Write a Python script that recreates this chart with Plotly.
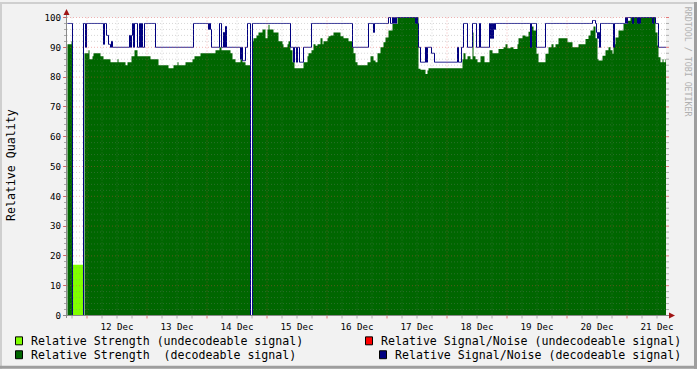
import pandas as pd
import plotly.graph_objects as go

# ---------------- data (RRD samples, 24 min step) ----------------
START = "2023-12-11 16:12"
STEP = "24min"
N_SAMPLES = 599

# (value, number of consecutive samples)
strength_undec_runs = [(0, 5), (17, 11), (0, 583)]

strength_dec_runs = [
    (91, 4), (92, 1), (0, 12), (88, 4), (89, 1), (86, 3), (87, 1), (88, 7), (87, 3), (86, 7),
    (85, 7), (86, 1), (85, 7), (84, 2), (85, 4), (87, 3), (89, 3), (87, 13), (86, 8), (84, 10),
    (83, 5), (84, 4), (85, 1), (84, 7), (85, 7), (86, 2), (87, 6), (88, 15), (89, 4), (90, 2),
    (89, 9), (88, 2), (86, 3), (85, 5), (86, 2), (85, 3), (84, 5), (0, 2), (92, 1), (93, 3),
    (94, 2), (95, 4), (96, 3), (93, 2), (96, 1), (97.6, 1), (96, 4), (95, 5), (92, 4), (91, 1),
    (90, 4), (91, 1), (92, 2), (89, 2), (85, 2), (83, 9), (85, 4), (87, 1), (88, 3), (89, 2),
    (91, 2), (90.5, 2), (91, 3), (93, 2), (91, 1), (92, 4), (93, 1), (93.7, 2), (94, 3), (95, 7),
    (93.7, 3), (93, 5), (92, 4), (90, 1), (88, 2), (85, 2), (84, 10), (85, 3), (87, 3), (85.6, 2),
    (85, 2), (88, 3), (90, 3), (91.7, 2), (93.3, 3), (95.6, 4), (97.8, 5), (100, 21), (82.8, 2), (82.5, 5),
    (81, 2), (82.2, 1), (83, 34), (86, 1), (88, 2), (86, 2), (87, 3), (86, 2), (95, 1), (87, 2),
    (86, 2), (85, 3), (87, 4), (85, 5), (89, 3), (88, 6), (89.4, 5), (90, 2), (91, 2), (89.7, 3),
    (90, 3), (89.4, 4), (91, 1), (93, 4), (94, 3), (93.6, 3), (95.2, 2), (97, 3), (95.6, 3), (87.8, 2),
    (85, 7), (87.8, 3), (90, 3), (91, 2), (90, 2), (91, 3), (93, 9), (91.7, 5), (90, 6), (91, 7),
    (92.8, 3), (94, 2), (95.6, 3), (97, 2), (93, 2), (86, 1), (85.6, 4), (87.2, 3), (89, 3), (90, 2),
    (89, 2), (87.8, 1), (91, 2), (93.3, 3), (95.6, 5), (97.8, 4), (98.9, 3), (100, 25), (95, 2), (90.6, 1),
    (86.7, 2), (85, 2), (86, 1), (85, 2), (86, 1),
]

sn_dec_runs = [
    (98, 5), (0, 11), (98, 2), (90, 1), (98, 17), (91, 1), (98, 2), (94, 2), (91, 2), (90, 1),
    (92, 1), (90, 17), (94, 1), (90, 1), (94, 1), (98, 1), (90, 1), (98, 3), (90, 2), (98, 1),
    (90, 1), (98, 1), (90, 2), (98, 11), (90, 38), (98, 15), (96, 1), (98, 1), (96, 1), (90, 8),
    (98, 2), (90, 2), (95, 1), (90, 1), (97, 1), (90, 14), (86, 1), (90, 1), (85.5, 3), (90, 2),
    (98, 3), (0, 2), (98, 38), (90, 3), (85, 1), (90, 2), (85, 1), (90, 2), (85, 4), (90, 8),
    (98, 41), (90, 16), (98, 5), (95, 1), (98, 14), (100, 2), (98, 2), (100, 1), (98, 1), (100, 1),
    (98, 1), (100, 19), (98, 1), (100, 1), (98, 1), (90, 2), (85, 5), (90, 1), (85, 1), (90, 4),
    (88, 3), (85, 23), (90, 1), (85, 3), (90, 2), (98, 4), (90, 5), (98, 4), (90, 3), (98, 1),
    (90, 9), (98, 1), (93, 1), (98, 1), (93, 1), (98, 1), (96, 1), (98, 35), (90, 1), (98, 5),
    (90, 9), (98, 47), (99, 3), (98, 1), (95, 1), (93, 1), (95, 1), (90, 1), (98, 13), (90, 1),
    (98, 11), (100, 1), (98, 1), (100, 5), (98, 1), (100, 4), (98, 1), (100, 1), (98, 1), (100, 12),
    (98, 1), (100, 2), (98, 3), (90, 8),
]

sn_undec_runs = [(None, 599)]  # no undecodeable S/N samples in this period

day_labels = ["12 Dec", "13 Dec", "14 Dec", "15 Dec", "16 Dec",
              "17 Dec", "18 Dec", "19 Dec", "20 Dec", "21 Dec"]
day_noons = ["2023-12-12 12:00", "2023-12-13 12:00", "2023-12-14 12:00", "2023-12-15 12:00",
             "2023-12-16 12:00", "2023-12-17 12:00", "2023-12-18 12:00", "2023-12-19 12:00",
             "2023-12-20 12:00", "2023-12-21 12:00"]
y_ticks = [0, 10, 20, 30, 40, 50, 60, 70, 80, 90, 100]

legend_items = [
    ("Relative Strength (undecodeable signal)", "#80FF00"),
    ("Relative Strength  (decodeable signal)", "#006600"),
    ("Relative Signal/Noise (undecodeable signal)", "#FF0000"),
    ("Relative Signal/Noise (decodeable signal)", "#000080"),
]


def expand(runs):
    out = []
    for v, n in runs:
        out += [v] * n
    return out


s_undec = expand(strength_undec_runs)
s_dec = expand(strength_dec_runs)
sn_dec = expand(sn_dec_runs)
sn_undec = expand(sn_undec_runs)
for name, arr in [("s_undec", s_undec), ("s_dec", s_dec), ("sn_dec", sn_dec), ("sn_undec", sn_undec)]:
    if len(arr) != N_SAMPLES:
        raise SystemExit(f"{name} has {len(arr)} samples")

times = pd.date_range(START, periods=N_SAMPLES + 1, freq=STEP)
t_end = times[-1]
half = pd.Timedelta(STEP) / 2


def step(arr):
    return arr + [arr[-1]]


# ---------------- figure ----------------
W, H = 697, 369
L, R, T, B = 67, 31, 15, 53
PW, PH = W - L - R, H - T - B
MONO = "DejaVu Sans Mono"
BG = "#F2F2F2"


def PX(px):
    return (px - L) / PW


def PY(py):
    return (H - B - py) / PH


fig = go.Figure()
fig.add_trace(go.Scatter(x=times, y=step(s_undec), mode="lines",
                         line=dict(width=0, shape="hv"), fill="tozeroy",
                         fillcolor="#80FF00", hoverinfo="skip", showlegend=False))
fig.add_trace(go.Scatter(x=times, y=step(s_dec), mode="lines",
                         line=dict(width=0, shape="hv"), fill="tozeroy",
                         fillcolor="#006600", hoverinfo="skip", showlegend=False))
fig.add_trace(go.Scatter(x=times, y=step(sn_undec), mode="lines",
                         line=dict(width=1, shape="hv", color="#FF0000"),
                         hoverinfo="skip", showlegend=False))
fig.add_trace(go.Scatter(x=times, y=step(sn_dec), mode="lines",
                         line=dict(width=1, shape="hv", color="#000080"),
                         hoverinfo="skip", showlegend=False))

x_lo, x_hi = times[0] - half, t_end - half

shapes = []
# white canvas
shapes.append(dict(type="rect", xref="x", yref="y", x0=x_lo, x1=x_hi, y0=0, y1=100,
                   fillcolor="white", line=dict(width=0), layer="below"))

MAJ = "rgba(222,70,70,0.4)"
MIN = "rgba(130,130,130,0.32)"
MAJ_T = "rgba(222,70,70,0.7)"
MIN_T = "rgba(130,130,130,0.6)"
# vertical grid every 6 h
g = pd.Timestamp("2023-12-11 18:00")
while g < t_end:
    major = g.hour == 0
    shapes.append(dict(type="line", xref="x", yref="y", x0=g, x1=g, y0=0, y1=100,
                       line=dict(color=MAJ if major else MIN, width=1, dash="1px,2px"), layer="above"))
    shapes.append(dict(type="line", xref="x", yref="paper", x0=g, x1=g, y0=PY(316), y1=PY(318.5),
                       line=dict(color=MAJ_T if major else MIN_T, width=1), layer="above"))
    g += pd.Timedelta(hours=6)
# horizontal grid every 2
for v in range(2, 101, 2):
    major = v % 10 == 0
    shapes.append(dict(type="line", xref="paper", yref="y", x0=0, x1=1, y0=v, y1=v,
                       line=dict(color=MAJ if major else MIN, width=1, dash="1px,2px"), layer="above"))
    shapes.append(dict(type="line", xref="paper", yref="y", x0=1, x1=PX(669), y0=v, y1=v,
                       line=dict(color=MAJ_T if major else MIN_T, width=1), layer="above"))

AX = "#8A8A8A"
ARROW = "#A01515"
# axis lines
shapes.append(dict(type="line", xref="paper", yref="paper", x0=PX(66.5), x1=PX(66.5),
                   y0=PY(318), y1=PY(12), line=dict(color=AX, width=1), layer="above"))
shapes.append(dict(type="line", xref="paper", yref="paper", x0=PX(63), x1=PX(670),
                   y0=PY(315.5), y1=PY(315.5), line=dict(color=AX, width=1), layer="above"))
# arrows
shapes.append(dict(type="path", xref="paper", yref="paper",
                   path=f"M {PX(66.5)} {PY(7)} L {PX(63.5)} {PY(13)} L {PX(69.5)} {PY(13)} Z",
                   fillcolor=ARROW, line=dict(width=0), layer="above"))
shapes.append(dict(type="path", xref="paper", yref="paper",
                   path=f"M {PX(675)} {PY(315.5)} L {PX(669)} {PY(312.5)} L {PX(669)} {PY(318.5)} Z",
                   fillcolor=ARROW, line=dict(width=0), layer="above"))
# 3D border
shapes.append(dict(type="rect", xref="paper", yref="paper", x0=PX(0), x1=PX(W), y0=PY(0), y1=PY(2),
                   fillcolor="#CFCFCF", line=dict(width=0)))
shapes.append(dict(type="rect", xref="paper", yref="paper", x0=PX(0), x1=PX(2), y0=PY(0), y1=PY(H),
                   fillcolor="#CFCFCF", line=dict(width=0)))
shapes.append(dict(type="rect", xref="paper", yref="paper", x0=PX(0), x1=PX(W), y0=PY(H - 3), y1=PY(H),
                   fillcolor="#9E9E9E", line=dict(width=0)))
shapes.append(dict(type="rect", xref="paper", yref="paper", x0=PX(W - 3), x1=PX(W), y0=PY(0), y1=PY(H),
                   fillcolor="#9E9E9E", line=dict(width=0)))

# legend
leg_pos = [(15, 341, 30), (15, 355, 30), (365, 341, 380), (379, 355, 394)]
annotations = []
for (label, color), (sx, cy, tx) in zip(legend_items, leg_pos):
    shapes.append(dict(type="rect", xref="paper", yref="paper",
                       x0=PX(sx + 0.5), x1=PX(sx + 7.5), y0=PY(cy - 4), y1=PY(cy + 4),
                       fillcolor=color, line=dict(color="black", width=1)))
    annotations.append(dict(text=label.replace("  ", " \u00a0"), x=PX(tx - 1), y=PY(cy),
                            xref="paper", yref="paper", xanchor="left", yanchor="middle",
                            showarrow=False, font=dict(family=MONO, size=11.6, color="black")))

annotations.append(dict(text="Relative Quality", x=PX(11), y=PY(164), xref="paper", yref="paper",
                        xanchor="center", yanchor="middle", textangle=-90, showarrow=False,
                        font=dict(family=MONO, size=11.6, color="black")))
annotations.append(dict(text="RRDTOOL / TOBI OETIKER", x=PX(688), y=PY(60), xref="paper", yref="paper",
                        xanchor="center", yanchor="middle", textangle=90, showarrow=False,
                        font=dict(family=MONO, size=8.3, color="#B0B0B0")))

fig.update_layout(
    width=W, height=H, margin=dict(l=L, r=R, t=T, b=B, pad=0),
    paper_bgcolor=BG, plot_bgcolor=BG, showlegend=False,
    shapes=shapes, annotations=annotations,
    xaxis=dict(type="date", range=[x_lo, x_hi], tickvals=day_noons, ticktext=day_labels,
               showgrid=False, zeroline=False, showline=False, ticks="outside", ticklen=2,
               tickcolor="rgba(0,0,0,0)", tickfont=dict(family=MONO, size=9.2, color="black"),
               fixedrange=True),
    yaxis=dict(range=[-1 / 6, PH / 3 - 1 / 6], tickvals=y_ticks, showgrid=False, zeroline=False,
               showline=False, ticks="outside", ticklen=3, tickcolor="rgba(210,80,80,0.8)",
               minor=dict(dtick=2, tick0=0, ticks="outside", ticklen=2, tickcolor="#A8A8A8", showgrid=False),
               tickfont=dict(family=MONO, size=9.2, color="black"), fixedrange=True),
)

fig.write_html("out.html")
